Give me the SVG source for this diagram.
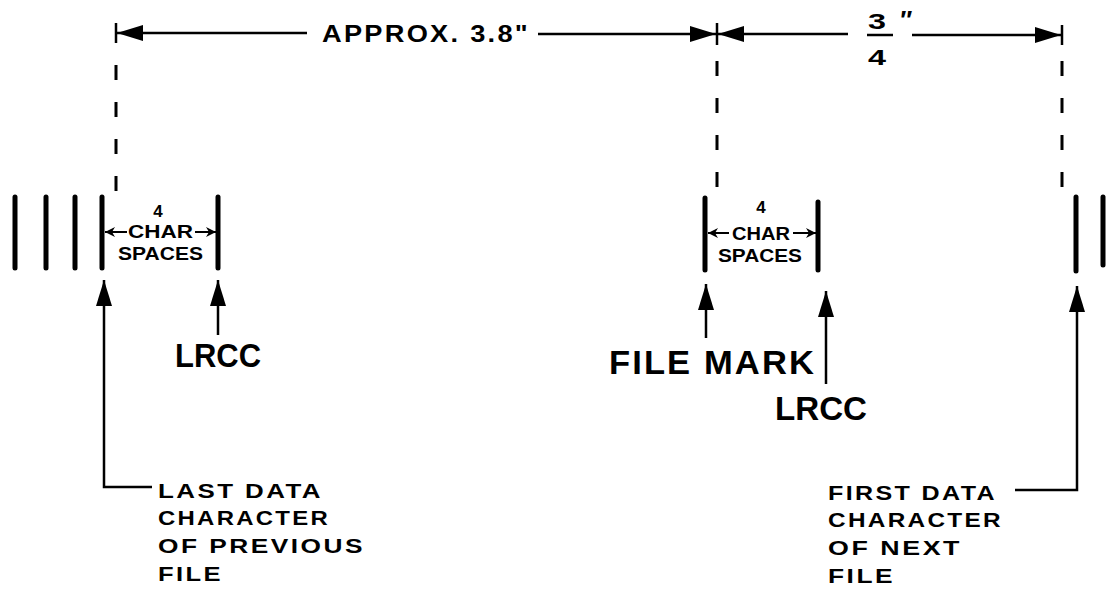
<svg xmlns="http://www.w3.org/2000/svg" width="1106" height="592" viewBox="0 0 1106 592">
<defs>
<style>
.t{font-family:"Liberation Sans",Arial,sans-serif;fill:#000;font-weight:bold}
.ls{letter-spacing:2px}
.big{font-family:"Liberation Sans",Arial,sans-serif;fill:#000;font-size:33px;font-weight:bold}
.bar{stroke:#000;stroke-width:5;stroke-linecap:round;fill:none}
.dash{stroke:#000;stroke-width:3;stroke-dasharray:15 22;fill:none}
.ln{stroke:#000;stroke-width:2.5;fill:none}
.thin{stroke:#000;stroke-width:2;fill:none}
</style>
<marker id="ah" viewBox="0 0 26 16" refX="26" refY="8" markerWidth="26" markerHeight="16" markerUnits="userSpaceOnUse" orient="auto">
<path d="M0,0 L26,8 L0,16 Z" fill="#000"/>
</marker>
<marker id="sa" viewBox="0 0 10 10" refX="10" refY="5" markerWidth="10" markerHeight="10" markerUnits="userSpaceOnUse" orient="auto">
<path d="M0,0 L10,5 L0,10 L3,5 Z" fill="#000"/>
</marker>
</defs>
<rect width="1106" height="592" fill="#fff"/>

<g id="dimensions">
<line class="ln" x1="116" y1="23" x2="116" y2="43"/>
<line class="ln" x1="717" y1="23" x2="717" y2="45"/>
<line class="ln" x1="1062" y1="25" x2="1062" y2="45"/>
<line class="ln" x1="307" y1="33" x2="117" y2="33" marker-end="url(#ah)"/>
<line class="ln" x1="538" y1="34" x2="716" y2="34" marker-end="url(#ah)"/>
<line class="ln" x1="848" y1="34" x2="718" y2="34" marker-end="url(#ah)"/>
<line class="ln" x1="912" y1="35" x2="1061" y2="35" marker-end="url(#ah)"/>
<line class="dash" x1="116" y1="65" x2="116" y2="195"/>
<line class="dash" x1="717" y1="61" x2="717" y2="195"/>
<line class="dash" x1="1062" y1="61" x2="1062" y2="195"/>
<text class="t ls" x="322" y="42" font-size="24" textLength="208" lengthAdjust="spacingAndGlyphs">APPROX.  3.8"</text>
<text class="t" x="868" y="29" font-size="22" textLength="18" lengthAdjust="spacingAndGlyphs">3</text>
<line class="ln" x1="867" y1="35" x2="893" y2="35"/>
<text class="t" x="868" y="65" font-size="22" textLength="18" lengthAdjust="spacingAndGlyphs">4</text>
<text class="t" x="899" y="29" font-size="25" font-style="italic">″</text>
</g>

<g id="bars">
<line class="bar" x1="15" y1="197" x2="15" y2="268"/>
<line class="bar" x1="46" y1="197" x2="46" y2="268"/>
<line class="bar" x1="75" y1="197" x2="75" y2="268"/>
<line class="bar" x1="102" y1="197" x2="102" y2="268"/>
<line class="bar" x1="218" y1="197" x2="218" y2="268"/>
<line class="bar" x1="705" y1="198" x2="705" y2="270"/>
<line class="bar" x1="818" y1="202" x2="818" y2="270"/>
<line class="bar" x1="1076" y1="197" x2="1076" y2="271"/>
<line class="bar" x1="1103" y1="197" x2="1103" y2="265"/>
</g>

<g id="charspaces-1">
<text class="t" x="158" y="217" font-size="17" text-anchor="middle">4</text>
<text class="t" x="128" y="238" font-size="18" textLength="65" lengthAdjust="spacingAndGlyphs">CHAR</text>
<text class="t" x="118" y="260" font-size="18" textLength="85" lengthAdjust="spacingAndGlyphs">SPACES</text>
<line class="thin" x1="127" y1="232" x2="105" y2="232" marker-end="url(#sa)"/>
<line class="thin" x1="195" y1="232" x2="216" y2="232" marker-end="url(#sa)"/>
</g>

<g id="charspaces-2">
<text class="t" x="761" y="213" font-size="17" text-anchor="middle">4</text>
<text class="t" x="732" y="240" font-size="18" textLength="58" lengthAdjust="spacingAndGlyphs">CHAR</text>
<text class="t" x="718" y="262" font-size="18" textLength="84" lengthAdjust="spacingAndGlyphs">SPACES</text>
<line class="thin" x1="729" y1="233" x2="708" y2="233" marker-end="url(#sa)"/>
<line class="thin" x1="793" y1="233" x2="816" y2="233" marker-end="url(#sa)"/>
</g>

<g id="connectors">
<polyline class="ln" points="152,487 104,487 104,280" marker-end="url(#ah)"/>
<line class="ln" x1="218" y1="335" x2="218" y2="280" marker-end="url(#ah)"/>
<line class="ln" x1="706" y1="338" x2="706" y2="284" marker-end="url(#ah)"/>
<line class="ln" x1="826" y1="384" x2="826" y2="291" marker-end="url(#ah)"/>
<polyline class="ln" points="1015,490 1077,490 1077,286" marker-end="url(#ah)"/>
</g>

<g id="label-lrcc-1">
<text class="big" x="175" y="367" textLength="86" lengthAdjust="spacingAndGlyphs">LRCC</text>
</g>
<g id="label-filemark">
<text class="big ls" x="609" y="374" textLength="207" lengthAdjust="spacingAndGlyphs">FILE  MARK</text>
</g>
<g id="label-lrcc-2">
<text class="big" x="775" y="420" textLength="92" lengthAdjust="spacingAndGlyphs">LRCC</text>
</g>

<g id="label-last">
<text class="t ls" x="158" y="498" font-size="21" textLength="165" lengthAdjust="spacingAndGlyphs">LAST  DATA</text>
<text class="t ls" x="158" y="525" font-size="21" textLength="172" lengthAdjust="spacingAndGlyphs">CHARACTER</text>
<text class="t ls" x="158" y="553" font-size="21" textLength="207" lengthAdjust="spacingAndGlyphs">OF  PREVIOUS</text>
<text class="t ls" x="158" y="581" font-size="21" textLength="65" lengthAdjust="spacingAndGlyphs">FILE</text>
</g>

<g id="label-first">
<text class="t ls" x="828" y="500" font-size="21" textLength="169" lengthAdjust="spacingAndGlyphs">FIRST  DATA</text>
<text class="t ls" x="828" y="527" font-size="21" textLength="175" lengthAdjust="spacingAndGlyphs">CHARACTER</text>
<text class="t ls" x="828" y="555" font-size="21" textLength="134" lengthAdjust="spacingAndGlyphs">OF  NEXT</text>
<text class="t ls" x="828" y="583" font-size="21" textLength="67" lengthAdjust="spacingAndGlyphs">FILE</text>
</g>
</svg>
